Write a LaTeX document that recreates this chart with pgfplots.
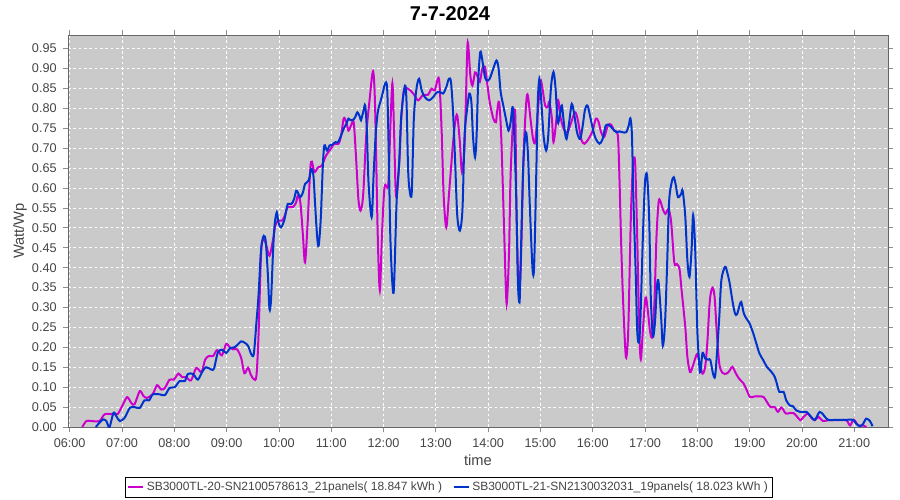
\documentclass[border=0pt]{standalone}
\usepackage{pgfplots}
\pgfplotsset{compat=1.18}
\usepackage{fontspec}
\setmainfont{Liberation Sans}
\definecolor{bggray}{RGB}{202,202,202}
\definecolor{magA}{RGB}{204,0,204}
\definecolor{bluB}{RGB}{0,51,204}
\definecolor{txtgray}{RGB}{68,68,68}
\begin{document}
\begin{tikzpicture}
\path[use as bounding box] (-51pt,-54.75pt) rectangle (624pt,320.25pt);
\begin{axis}[
  scale only axis, width=615pt, height=294pt,
  xmin=5.9675, xmax=21.646, ymin=0, ymax=0.984,
  axis background/.style={fill=bggray},
  axis line style={draw=black!60, line width=0.6pt},
  xtick={6,7,8,9,10,11,12,13,14,15,16,17,18,19,20,21},
  xticklabels={06:00,07:00,08:00,09:00,10:00,11:00,12:00,13:00,14:00,15:00,16:00,17:00,18:00,19:00,20:00,21:00},
  ytick={0,0.05,0.10,0.15,0.20,0.25,0.30,0.35,0.40,0.45,0.50,0.55,0.60,0.65,0.70,0.75,0.80,0.85,0.90,0.95},
  yticklabels={0.00,0.05,0.10,0.15,0.20,0.25,0.30,0.35,0.40,0.45,0.50,0.55,0.60,0.65,0.70,0.75,0.80,0.85,0.90,0.95},
  tick align=outside, major tick length=4pt,
  tick style={draw=black!45, line width=0.5pt},
  x tick label style={font=\fontsize{9.5}{11}\selectfont, text=txtgray, yshift=-1pt},
  y tick label style={font=\fontsize{9.5}{11}\selectfont, text=txtgray, xshift=-1pt},
  grid=major,
  major grid style={draw=white, dash pattern=on 2pt off 2pt, line width=0.5pt},
  xlabel={time}, ylabel={Watt/Wp},
  xlabel style={at={(axis description cs:0.5,-0.0842)}, anchor=center, font=\fontsize{11}{13}\selectfont, text=txtgray},
  ylabel style={at={(axis description cs:-0.0585,0.5)}, anchor=center, rotate=0, font=\fontsize{11}{13}\selectfont, text=txtgray},
  legend columns=2,
  legend style={at={(axis description cs:0.4646,-0.1543)}, anchor=center, draw=black, line width=0.75pt,
    font=\fontsize{9}{11}\selectfont, text=txtgray, inner sep=1.5pt,
    /tikz/every even column/.append style={column sep=6pt}},
  legend image code/.code={\draw[#1, line width=1.5pt] (0pt,0pt) -- (11pt,0pt);},
  every axis plot/.append style={line width=1.5pt, smooth, tension=0.5},
]
\addplot[magA, no marks] coordinates {
(6.24,0.0)(6.32,0.015)(6.41,0.015)(6.57,0.015)(6.67,0.032)(6.83,0.032)(6.92,0.033)(7.02,0.057)
(7.10,0.075)(7.18,0.06)(7.24,0.057)(7.34,0.09)(7.41,0.078)(7.48,0.073)(7.59,0.083)(7.67,0.105)
(7.75,0.094)(7.82,0.098)(7.91,0.119)(7.99,0.119)(8.08,0.134)(8.15,0.125)(8.23,0.125)(8.32,0.117)
(8.42,0.148)(8.52,0.138)(8.59,0.169)(8.66,0.178)(8.74,0.178)(8.82,0.193)(8.91,0.18)(8.99,0.208)
(9.06,0.2)(9.12,0.195)(9.20,0.195)(9.28,0.173)(9.34,0.135)(9.41,0.149)(9.46,0.132)(9.52,0.12)
(9.57,0.128)(9.61,0.229)(9.66,0.438)(9.71,0.472)(9.76,0.455)(9.82,0.43)(9.89,0.472)(9.93,0.505)
(9.98,0.518)(10.06,0.518)(10.11,0.53)(10.17,0.552)(10.27,0.552)(10.33,0.564)(10.36,0.58)(10.41,0.564)
(10.46,0.48)(10.50,0.413)(10.55,0.514)(10.60,0.648)(10.63,0.666)(10.68,0.64)(10.75,0.652)(10.82,0.656)
(10.90,0.681)(10.99,0.698)(11.06,0.711)(11.14,0.711)(11.19,0.732)(11.24,0.775)(11.29,0.765)(11.33,0.744)
(11.38,0.757)(11.43,0.765)(11.48,0.665)(11.52,0.572)(11.56,0.543)(11.61,0.581)(11.67,0.732)(11.73,0.816)
(11.80,0.893)(11.84,0.8)(11.89,0.48)(11.93,0.343)(11.97,0.48)(12.02,0.603)(12.09,0.607)(12.13,0.75)
(12.17,0.863)(12.20,0.75)(12.24,0.578)(12.30,0.66)(12.34,0.774)(12.39,0.845)(12.47,0.849)(12.57,0.837)
(12.66,0.82)(12.76,0.834)(12.85,0.834)(12.92,0.849)(12.98,0.845)(13.06,0.874)(13.11,0.749)(13.15,0.581)
(13.20,0.501)(13.25,0.581)(13.32,0.698)(13.37,0.765)(13.41,0.782)(13.46,0.715)(13.50,0.64)(13.55,0.707)
(13.60,0.941)(13.62,0.958)(13.66,0.883)(13.70,0.857)(13.75,0.89)(13.79,0.883)(13.84,0.866)(13.89,0.9)
(13.94,0.904)(13.98,0.866)(14.03,0.816)(14.10,0.774)(14.15,0.765)(14.17,0.79)(14.21,0.816)(14.25,0.732)
(14.30,0.522)(14.34,0.346)(14.36,0.313)(14.40,0.438)(14.43,0.631)(14.48,0.774)(14.52,0.782)(14.54,0.564)
(14.57,0.396)(14.61,0.363)(14.64,0.48)(14.68,0.69)(14.73,0.816)(14.76,0.832)(14.81,0.774)(14.86,0.723)
(14.90,0.715)(14.94,0.774)(15.00,0.866)(15.04,0.849)(15.09,0.807)(15.14,0.803)(15.17,0.816)(15.22,0.774)
(15.25,0.715)(15.30,0.765)(15.34,0.82)(15.39,0.774)(15.46,0.744)(15.52,0.74)(15.59,0.765)(15.66,0.79)
(15.71,0.774)(15.78,0.723)(15.84,0.711)(15.92,0.723)(16.00,0.744)(16.06,0.774)(16.11,0.767)(16.16,0.74)
(16.22,0.728)(16.29,0.757)(16.35,0.759)(16.41,0.744)(16.48,0.732)(16.51,0.631)(16.54,0.48)(16.57,0.355)
(16.61,0.229)(16.64,0.174)(16.68,0.245)(16.73,0.53)(16.77,0.656)(16.81,0.665)(16.85,0.48)(16.89,0.245)
(16.92,0.17)(16.96,0.245)(17.01,0.325)(17.05,0.296)(17.10,0.237)(17.14,0.229)(17.18,0.313)(17.22,0.48)
(17.26,0.564)(17.29,0.568)(17.34,0.547)(17.39,0.535)(17.45,0.547)(17.50,0.514)(17.56,0.413)(17.61,0.409)
(17.66,0.396)(17.70,0.343)(17.77,0.251)(17.81,0.176)(17.86,0.138)(17.91,0.151)(17.96,0.172)(18.00,0.183)
(18.05,0.159)(18.10,0.134)(18.15,0.151)(18.19,0.209)(18.24,0.318)(18.29,0.35)(18.33,0.327)(18.37,0.243)
(18.42,0.159)(18.48,0.136)(18.56,0.134)(18.62,0.142)(18.67,0.151)(18.74,0.134)(18.80,0.121)(18.88,0.11)
(18.94,0.094)(19.01,0.075)(19.10,0.077)(19.19,0.077)(19.27,0.075)(19.33,0.063)(19.40,0.05)(19.48,0.05)
(19.54,0.038)(19.61,0.049)(19.69,0.034)(19.77,0.035)(19.84,0.035)(19.90,0.027)(19.97,0.017)(20.03,0.025)
(20.11,0.034)(20.18,0.023)(20.24,0.017)(20.32,0.025)(20.40,0.015)(20.50,0.017)(20.72,0.017)(20.85,0.017)
(20.92,0.004)(20.99,0.018)(21.08,0.004)(21.17,0.004)(21.23,0.0)
};
\addlegendentry{SB3000TL-20-SN2100578613\_21panels( 18.847 kWh )}
\addplot[bluB, no marks] coordinates {
(6.50,0.0)(6.57,0.011)(6.64,0.019)(6.70,0.015)(6.76,0.0)(6.84,0.036)(6.90,0.025)(6.96,0.015)
(7.05,0.023)(7.15,0.048)(7.24,0.05)(7.34,0.048)(7.43,0.067)(7.52,0.067)(7.59,0.082)(7.72,0.082)
(7.82,0.08)(7.91,0.098)(8.01,0.1)(8.10,0.115)(8.20,0.115)(8.26,0.133)(8.36,0.133)(8.45,0.119)
(8.54,0.14)(8.61,0.15)(8.71,0.144)(8.76,0.147)(8.83,0.186)(8.91,0.194)(8.99,0.186)(9.07,0.198)
(9.15,0.2)(9.22,0.208)(9.28,0.215)(9.34,0.212)(9.41,0.204)(9.47,0.183)(9.52,0.183)(9.57,0.262)
(9.61,0.33)(9.66,0.447)(9.71,0.48)(9.75,0.464)(9.79,0.38)(9.82,0.296)(9.85,0.321)(9.89,0.447)
(9.92,0.51)(9.96,0.539)(9.99,0.514)(10.04,0.501)(10.10,0.518)(10.14,0.543)(10.17,0.56)(10.24,0.56)
(10.29,0.572)(10.33,0.593)(10.36,0.589)(10.41,0.577)(10.46,0.589)(10.50,0.61)(10.57,0.619)(10.62,0.648)
(10.66,0.631)(10.69,0.564)(10.73,0.48)(10.76,0.455)(10.80,0.522)(10.84,0.656)(10.87,0.707)(10.92,0.694)
(10.97,0.707)(11.01,0.708)(11.08,0.715)(11.13,0.715)(11.19,0.732)(11.24,0.749)(11.29,0.761)(11.33,0.774)
(11.37,0.77)(11.41,0.77)(11.46,0.778)(11.50,0.79)(11.55,0.778)(11.57,0.77)(11.62,0.795)(11.65,0.807)
(11.68,0.749)(11.71,0.623)(11.75,0.547)(11.78,0.531)(11.81,0.631)(11.85,0.732)(11.89,0.79)(11.94,0.816)
(11.99,0.841)(12.03,0.862)(12.07,0.849)(12.10,0.69)(12.13,0.48)(12.17,0.359)(12.20,0.35)(12.25,0.564)
(12.30,0.665)(12.34,0.782)(12.41,0.857)(12.44,0.816)(12.47,0.648)(12.50,0.593)(12.54,0.589)(12.58,0.774)
(12.63,0.849)(12.68,0.874)(12.73,0.845)(12.79,0.828)(12.87,0.82)(12.95,0.828)(13.01,0.839)(13.08,0.841)
(13.14,0.837)(13.20,0.853)(13.25,0.874)(13.29,0.866)(13.33,0.79)(13.37,0.665)(13.41,0.531)(13.46,0.493)
(13.51,0.547)(13.55,0.732)(13.60,0.799)(13.64,0.837)(13.68,0.816)(13.71,0.732)(13.75,0.677)(13.78,0.732)
(13.81,0.866)(13.85,0.941)(13.89,0.92)(13.94,0.878)(13.98,0.87)(14.03,0.874)(14.10,0.9)(14.16,0.92)
(14.20,0.9)(14.24,0.841)(14.29,0.807)(14.34,0.774)(14.39,0.744)(14.43,0.765)(14.47,0.803)(14.50,0.732)
(14.54,0.564)(14.57,0.363)(14.60,0.313)(14.62,0.396)(14.67,0.648)(14.72,0.74)(14.76,0.69)(14.80,0.547)
(14.85,0.396)(14.88,0.405)(14.92,0.631)(14.95,0.816)(14.98,0.874)(15.01,0.832)(15.06,0.732)(15.11,0.694)
(15.15,0.732)(15.20,0.849)(15.25,0.891)(15.29,0.849)(15.33,0.765)(15.37,0.782)(15.41,0.807)(15.46,0.749)
(15.50,0.723)(15.55,0.765)(15.60,0.811)(15.65,0.782)(15.70,0.74)(15.76,0.723)(15.81,0.757)(15.85,0.795)
(15.90,0.807)(15.96,0.774)(16.01,0.744)(16.06,0.723)(16.13,0.711)(16.19,0.723)(16.25,0.757)(16.32,0.757)
(16.38,0.749)(16.45,0.74)(16.51,0.742)(16.57,0.74)(16.64,0.74)(16.69,0.757)(16.72,0.775)(16.75,0.732)
(16.78,0.564)(16.82,0.396)(16.85,0.245)(16.88,0.212)(16.91,0.262)(16.96,0.48)(17.00,0.614)(17.04,0.631)
(17.08,0.522)(17.11,0.329)(17.15,0.229)(17.19,0.262)(17.23,0.355)(17.26,0.363)(17.31,0.271)(17.34,0.204)
(17.38,0.254)(17.42,0.396)(17.46,0.564)(17.51,0.614)(17.55,0.627)(17.59,0.606)(17.63,0.577)(17.69,0.585)
(17.72,0.593)(17.77,0.528)(17.81,0.419)(17.85,0.377)(17.89,0.444)(17.92,0.532)(17.96,0.444)(18.00,0.243)
(18.04,0.151)(18.06,0.138)(18.10,0.186)(18.15,0.172)(18.21,0.169)(18.25,0.168)(18.30,0.134)(18.34,0.127)
(18.38,0.193)(18.42,0.276)(18.46,0.369)(18.53,0.402)(18.57,0.389)(18.62,0.36)(18.67,0.318)(18.72,0.285)
(18.76,0.283)(18.81,0.306)(18.84,0.314)(18.89,0.285)(18.94,0.272)(19.00,0.26)(19.07,0.235)(19.13,0.209)
(19.19,0.184)(19.26,0.168)(19.33,0.151)(19.42,0.138)(19.48,0.126)(19.52,0.109)(19.57,0.088)(19.65,0.088)
(19.70,0.067)(19.77,0.054)(19.83,0.052)(19.89,0.042)(19.96,0.038)(20.04,0.038)(20.09,0.038)(20.18,0.025)
(20.25,0.018)(20.34,0.038)(20.42,0.029)(20.50,0.018)(20.66,0.018)(20.85,0.018)(20.98,0.018)(21.04,0.008)
(21.11,0.002)(21.17,0.008)(21.23,0.021)(21.30,0.015)(21.35,0.002)
};
\addlegendentry{SB3000TL-21-SN2130032031\_19panels( 18.023 kWh )}
\end{axis}
\node[font=\bfseries\fontsize{15}{18}\selectfont, anchor=center] at (286.5pt,309.75pt) {7-7-2024};
\end{tikzpicture}
\end{document}
